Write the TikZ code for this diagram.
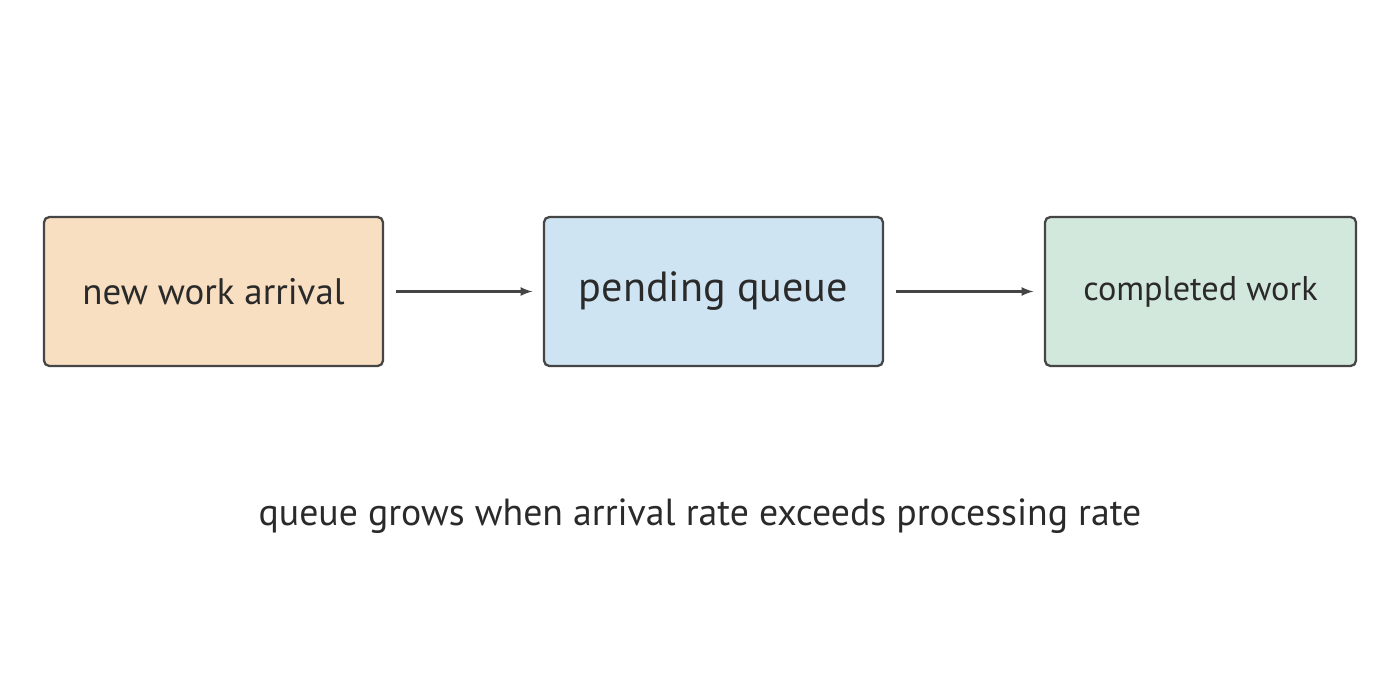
\documentclass[tikz,border=0pt]{standalone}
\usepackage{fontspec}
\setmainfont{PT Sans}
\usetikzlibrary{positioning}
\definecolor{arrivalfill}{HTML}{F8DFC1}
\definecolor{queuefill}{HTML}{CFE4F2}
\definecolor{donefill}{HTML}{D3E8DC}
\definecolor{edge}{HTML}{454545}
\definecolor{ink}{HTML}{2A2A2A}

\tikzset{
  stage/.style={draw=edge, line width=1.3pt, rounded corners=3pt,
    minimum height=2.98cm, text=ink, inner sep=0pt},
  flow/.style={draw=edge, line width=1.3pt, -latex},
}

\begin{document}
\begin{tikzpicture}[x=0.02cm, y=-0.02cm]
  \useasboundingbox[fill=white] (0,0) rectangle (1400,678);

  \node[stage, fill=arrivalfill, minimum width=6.78cm, font=\fontsize{21}{25}\selectfont]
    (arrival) at (213.5,291.5) {new work arrival};
  \node[stage, fill=queuefill, minimum width=6.78cm, font=\fontsize{24}{28}\selectfont]
    (queue) at (713.5,291.5) {pending queue};
  \node[stage, fill=donefill, minimum width=6.22cm, font=\fontsize{19.5}{23}\selectfont]
    (done) at (1200.5,291.5) {completed work};

  \draw[flow] ([xshift=7pt]arrival.east) -- ([xshift=-6pt]queue.west);
  \draw[flow] ([xshift=7pt]queue.east) -- ([xshift=-6pt]done.west);

  \node[text=ink, font=\fontsize{21.5}{26}\selectfont] (note) at (700,516)
    {queue grows when arrival rate exceeds processing rate};
\end{tikzpicture}
\end{document}
